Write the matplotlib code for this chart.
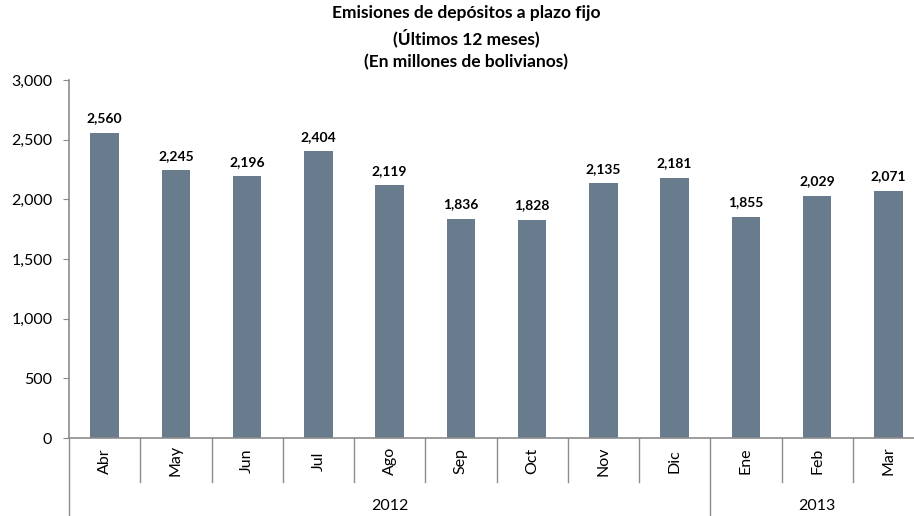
import matplotlib.pyplot as plt
from matplotlib.ticker import FuncFormatter

plt.rcParams['font.family'] = ['Lato', 'DejaVu Sans']

months = ["Abr", "May", "Jun", "Jul", "Ago", "Sep", "Oct", "Nov", "Dic", "Ene", "Feb", "Mar"]
values = [2560, 2245, 2196, 2404, 2119, 1836, 1828, 2135, 2181, 1855, 2029, 2071]
years = ["2012", "2013"]
months_per_year = [9, 3]

BAR_COLOR = "#687c8e"
AXIS_COLOR = "#8c8c8c"

fig = plt.figure(figsize=(9.14, 5.16), dpi=100)
ax = fig.add_axes([69 / 914, 78 / 516, 855 / 914, 358 / 516])

x = list(range(len(months)))
bars = ax.bar(x, values, width=0.4, color=BAR_COLOR)
ax.bar_label(bars, labels=[f"{v:,}" for v in values], padding=6,
             fontsize=10, fontweight="bold")

ax.set_xlim(-0.5, len(months) - 0.5)
ax.set_ylim(0, 3000)
ax.set_yticks(range(0, 3001, 500))
ax.yaxis.set_major_formatter(FuncFormatter(lambda v, p: f"{v:,.0f}"))
ax.tick_params(axis="y", direction="out", length=4, color=AXIS_COLOR,
               labelsize=11.5, pad=8)
ax.set_xticks([])

for s in ["top", "right"]:
    ax.spines[s].set_visible(False)
for s in ["left", "bottom"]:
    ax.spines[s].set_color(AXIS_COLOR)
    ax.spines[s].set_linewidth(1.2)

# two-level category axis: months, then years
tr = ax.get_xaxis_transform()
year_edges = [-0.5]
for n in months_per_year:
    year_edges.append(year_edges[-1] + n)

for i in range(len(months)):
    xe = i - 0.5
    bottom = -0.22 if xe in year_edges else -0.123
    ax.plot([xe, xe], [0, bottom], transform=tr, color=AXIS_COLOR,
            lw=1.0, clip_on=False)

for i, m in enumerate(months):
    ax.text(i, -0.064, m, transform=tr, rotation=90, ha="center", va="center",
            fontsize=11.5)

for k, yr in enumerate(years):
    ax.text((year_edges[k] + year_edges[k + 1]) / 2, -0.19, yr, transform=tr,
            ha="center", va="center", fontsize=11.5)

fig.text(466 / 914, 1 - 5 / 516,
         "Emisiones de depósitos a plazo fijo\n(Últimos 12 meses)\n(En millones de bolivianos)",
         ha="center", va="top", fontsize=12.5, fontweight="bold", linespacing=1.5)

fig.savefig("out.png", dpi=100)
